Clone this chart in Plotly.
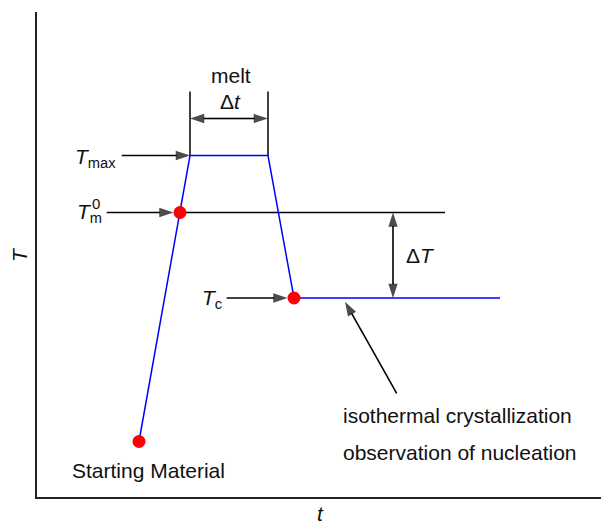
import plotly.graph_objects as go

# ---- data (t, T in arbitrary units) ----
# temperature programme of the sample
path_t = [10.3, 14.4, 15.4, 23.2, 25.8, 46.4]
path_T = [5.65, 28.55, 34.25, 34.25, 20.0, 20.0]

# key points: starting material, T_m^0, T_c
key_t = [10.3, 14.4, 25.8]
key_T = [5.65, 28.55, 20.0]

# equilibrium melting temperature line
tm_line_t = [14.4, 40.9]
tm_line_T = [28.55, 28.55]

# melt interval (Δt) markers
melt_t = [15.4, 23.2]
melt_T_low = 34.25
melt_T_high = 40.65

# axes frame
frame_t = [0.0, 0.0, 57.0]
frame_T = [48.6, 0.0, 0.0]

# arrows: (tail_t, tip_t), (tail_T, tip_T)
arrows = {
    "Tmax": ([8.57, 15.4], [34.25, 34.25]),
    "Tm0": ([7.07, 13.75], [28.55, 28.55]),
    "Tc": ([19.07, 25.15], [20.0, 20.0]),
    "dt_left": ([19.3, 15.4], [37.95, 37.95]),
    "dt_right": ([19.3, 23.2], [37.95, 37.95]),
    "dT_up": ([35.7, 35.7], [24.3, 28.55]),
    "dT_down": ([35.7, 35.7], [24.3, 20.0]),
    "nucleation": ([36.07, 30.9], [10.47, 19.63]),
}

FONT = "Liberation Sans, Arial, Helvetica, sans-serif"
TXT = "#111111"

fig = go.Figure()

# axes frame
fig.add_trace(go.Scatter(x=frame_t, y=frame_T, mode="lines",
                         line=dict(color="#222222", width=2), hoverinfo="skip"))

# melt interval vertical lines
for tv in melt_t:
    fig.add_trace(go.Scatter(x=[tv, tv], y=[melt_T_low, melt_T_high], mode="lines",
                             line=dict(color="#000000", width=1.5), hoverinfo="skip"))

# Tm0 line
fig.add_trace(go.Scatter(x=tm_line_t, y=tm_line_T, mode="lines",
                         line=dict(color="#000000", width=1.5), hoverinfo="skip"))

# temperature path
fig.add_trace(go.Scatter(x=path_t, y=path_T, mode="lines",
                         line=dict(color="#0000ff", width=1.5), hoverinfo="skip"))

# arrows
for name, (at, aT) in arrows.items():
    fig.add_trace(go.Scatter(
        x=at, y=aT, mode="lines+markers",
        line=dict(color="#000000", width=1.6),
        marker=dict(symbol="arrow", size=[0, 15], angleref="previous",
                    color="#000000", line=dict(width=0)),
        hoverinfo="skip"))

# red key points
fig.add_trace(go.Scatter(x=key_t, y=key_T, mode="markers",
                         marker=dict(color="#ff0000", size=13, line=dict(width=0)),
                         hoverinfo="skip"))

def txt(x, y, text, size=21, xanchor="center", yanchor="middle", angle=0):
    fig.add_annotation(x=x, y=y, xref="x", yref="y", text=text, showarrow=False,
                       xanchor=xanchor, yanchor=yanchor, textangle=angle,
                       font=dict(family=FONT, size=size, color=TXT))

txt(19.47, 42.3, "melt")
txt(19.4, 39.63, "Δ<i>t</i>")
txt(38.4, 24.3, "Δ<i>T</i>")
txt(8.2, 34.0, "<i>T</i><sub>max</sub>", xanchor="right")
txt(6.8, 28.5, "<i>T</i><sub>m</sub>", xanchor="right")
txt(6.0, 29.5, "0", size=15)
txt(18.8, 19.9, "<i>T</i><sub>c</sub>", xanchor="right")
txt(11.27, 2.73, "Starting Material")
txt(30.5, 8.3, "isothermal crystallization", xanchor="left")
txt(30.5, 4.6, "observation of nucleation", xanchor="left")
txt(28.4, -1.55, "<i>t</i>")
txt(-1.7, 24.3, "<i>T</i>", angle=-90)

fig.update_layout(
    width=601, height=522, autosize=False,
    margin=dict(l=0, r=0, t=0, b=0, pad=0),
    paper_bgcolor="white", plot_bgcolor="white",
    showlegend=False,
    xaxis=dict(range=[-3.6, 56.5], visible=False, fixedrange=True),
    yaxis=dict(range=[-2.4, 49.8], visible=False, fixedrange=True),
)

fig.write_html("out.html")
